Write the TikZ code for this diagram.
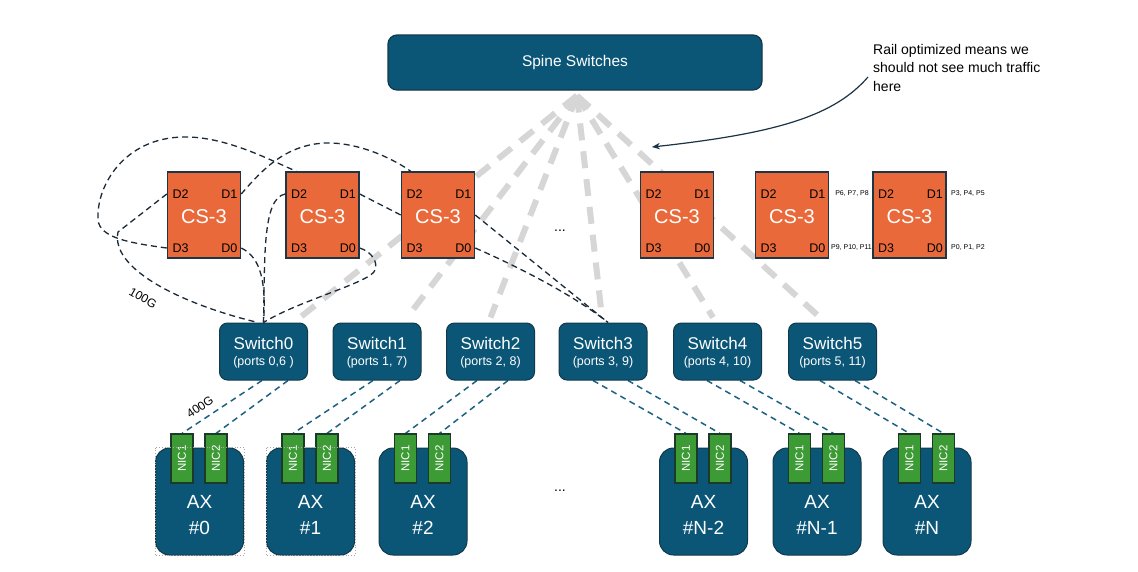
\documentclass[tikz,border=0pt]{standalone}
\usepackage{fontspec}
\setmainfont{Liberation Sans}
\usetikzlibrary{calc,arrows.meta}
\pgfdeclarelayer{bg}
\pgfdeclarelayer{paper}
\pgfsetlayers{paper,bg,main}
\definecolor{tealf}{HTML}{0B5677}
\definecolor{tealb}{HTML}{12394A}
\definecolor{csor}{HTML}{E9693A}
\definecolor{csb}{HTML}{1E3546}
\definecolor{nicg}{HTML}{3D9B35}
\definecolor{nicb}{HTML}{1B3A2A}
\definecolor{tline}{HTML}{1D6283}
\definecolor{kline}{HTML}{1B2A38}
\definecolor{grayl}{HTML}{D6D6D6}
\definecolor{arrowc}{HTML}{1B3344}
\tikzset{
  spinebox/.style={fill=tealf, draw=tealb, line width=1.2pt, rounded corners=9pt, minimum width=374pt, minimum height=55pt, inner sep=0pt, text=white, font=\fontsize{15.5}{18}\selectfont},
  csbox/.style={fill=csor, draw=csb, line width=1.5pt, minimum width=73pt, minimum height=86pt, inner sep=0pt},
  cst/.style={text=white, inner sep=0pt, font=\fontsize{20}{24}\selectfont},
  dlab/.style={text=black, inner sep=0pt, font=\fontsize{12.5}{14}\selectfont},
  plab/.style={text=black, inner sep=0pt, font=\fontsize{7}{8}\selectfont},
  swbox/.style={fill=tealf, draw=tealb, line width=1pt, rounded corners=8pt, minimum width=88pt, minimum height=57pt, inner sep=0pt},
  swt/.style={text=white, inner sep=0pt, font=\fontsize{17}{20}\selectfont},
  swp/.style={text=white, inner sep=0pt, font=\fontsize{12.5}{15}\selectfont},
  axbody/.style={fill=tealf, draw=tealb, line width=1pt, rounded corners=14pt, minimum width=88pt, minimum height=107pt, inner sep=0pt},
  nicbox/.style={fill=nicg, draw=nicb, line width=1.2pt, minimum width=22pt, minimum height=49pt, inner sep=0pt},
  nict/.style={text=white, inner sep=0pt, rotate=90, font=\fontsize{11.5}{13}\selectfont},
  axt/.style={text=white, inner sep=0pt, font=\fontsize{19}{22}\selectfont},
  dotsl/.style={text=black, inner sep=0pt, font=\fontsize{14}{16}\selectfont},
  speedl/.style={text=black, inner sep=0pt, font=\fontsize{12}{14}\selectfont},
  annot/.style={text=black, inner sep=0pt, align=left, font=\fontsize{14}{18.5}\selectfont},
  graydash/.style={draw=grayl, line width=6pt, dash pattern=on 17pt off 11pt},
  kdash/.style={draw=kline, line width=1.3pt, dash pattern=on 6pt off 4pt},
  tdash/.style={draw=tline, line width=1.5pt, dash pattern=on 6pt off 4.5pt},
  selbox/.style={draw=black!35, dotted, line width=0.8pt},
  notearrow/.style={draw=arrowc, line width=1.2pt, -{Stealth[length=8pt,width=6.5pt]}},
}
\newcommand\mkcs[2]{%
  \node[csbox] (#1) at (#2,215) {};
  \node[cst] (#1-t) at (#2,216.5) {CS-3};
  \node[dlab,anchor=west] (#1-d2) at (#2-31.5,194) {D2};
  \node[dlab,anchor=east] (#1-d1) at (#2+33.5,194) {D1};
  \node[dlab,anchor=west] (#1-d3) at (#2-31.5,248) {D3};
  \node[dlab,anchor=east] (#1-d0) at (#2+33.5,248) {D0};
}
\newcommand\mksw[4]{%
  \node[swbox] (#1) at (#2,351.5) {};
  \node[swt] (#1-t) at (#2,343) {#3};
  \node[swp] (#1-p) at (#2,362) {#4};
}
\newcommand\mkax[3]{%
  \node[axbody] (#1) at (#2,501.5) {};
  \node[nicbox] (#1-n1) at (#2-17.5,458.5) {};
  \node[nicbox] (#1-n2) at (#2+16.5,458.5) {};
  \node[nict] (#1-t1) at (#1-n1) {NIC1};
  \node[nict] (#1-t2) at (#1-n2) {NIC2};
  \node[axt] (#1-a) at (#2,502) {AX};
  \node[axt] (#1-b) at (#2,528) {\##3};
}
\begin{document}
\begin{tikzpicture}[x=1pt,y=-1pt]
\begin{pgfonlayer}{paper}
\fill[white] (0,0) rectangle (1138,571);
\end{pgfonlayer}
\useasboundingbox (0,0) rectangle (1138,571);

% spine
\node[spinebox] (spine) at (575,62.5) {Spine Switches};

% annotation
\node[annot, anchor=north west] (note) at (873,44) {Rail optimized means we\\should not see much traffic\\here};
\coordinate (aend) at (652,147);

% CS-3 boxes
\mkcs{cs1}{204}
\mkcs{cs2}{322.5}
\mkcs{cs3}{438}
\mkcs{cs4}{677}
\mkcs{cs5}{792}
\mkcs{cs6}{909.5}
\node[dotsl] (dotsa) at (560,231) {...};

% port labels
\node[plab] (p678) at (852,193) {P6, P7, P8};
\node[plab] (p91011) at (851.5,247) {P9, P10, P11};
\node[plab,anchor=west] (p345) at (951,193) {P3, P4, P5};
\node[plab,anchor=west] (p012) at (951,247) {P0, P1, P2};

% switches
\mksw{sw0}{263.5}{Switch0}{(ports 0,6 )}
\mksw{sw1}{377}{Switch1}{(ports 1, 7)}
\mksw{sw2}{490.5}{Switch2}{(ports 2, 8)}
\mksw{sw3}{603}{Switch3}{(ports 3, 9)}
\mksw{sw4}{717.5}{Switch4}{(ports 4, 10)}
\mksw{sw5}{832.5}{Switch5}{(ports 5, 11)}

% AX servers
\mkax{ax0}{199.5}{0}
\mkax{ax1}{310.5}{1}
\mkax{ax2}{423}{2}
\mkax{ax3}{703.5}{N-2}
\mkax{ax4}{817}{N-1}
\mkax{ax5}{927}{N}
\node[dotsl] (dotsb) at (560,491) {...};
\draw[selbox] (ax0.north west) rectangle (ax0.south east);
\draw[selbox] (ax1.north west) rectangle (ax1.south east);

% speed labels
\node[speedl, rotate=-30] (l100) at (143,298) {100G};
\node[speedl, rotate=34] (l400) at (200,407) {400G};

\begin{pgfonlayer}{bg}
% uplinks to spine
\draw[graydash] ($(spine.south)+(2,5)$) -- ($(sw0.north)+(36.5,-5)$);
\draw[graydash] ($(spine.south)+(2,5)$) -- ($(sw1.north)+(30,-5)$);
\draw[graydash] ($(spine.south)+(2,5)$) -- ($(sw2.north)+(0,-5)$);
\draw[graydash] ($(spine.south)+(2,5)$) -- ($(sw3.north)+(-1,-5)$);
\draw[graydash] ($(spine.south)+(2,5)$) -- ($(sw4.north)+(-4.5,-5)$);
\draw[graydash] ($(spine.south)+(2,5)$) -- ($(sw5.north)+(-12.5,-5)$);

% CS-3 to switch links
\draw[kdash] (cs1.west |- cs1-d2) -- (118,232) .. controls (110,270) and (185,305) .. ($(sw0.north)+(-5.5,0)$);
\draw[kdash] (cs1.west |- cs1-d3) .. controls (130,243) and (100,238) .. (98,220) .. controls (96,185) and (125,138) .. (183,137) .. controls (225,136) and (270,160) .. ($(cs2.north west)+(11,0)$);
\draw[kdash] (cs1.east |- cs1-d1) .. controls (262,170) and (285,145) .. (325,143) .. controls (360,142) and (395,160) .. ($(cs3.north west)+(10,0)$);
\draw[kdash] (cs1.east |- cs1-d0) .. controls (262,258) and (266,285) .. (sw0.north);
\draw[kdash] (cs2.west |- cs2-d2) .. controls (262,198) and (265,260) .. (sw0.north);
\draw[kdash] (cs2.east |- cs2-d0) .. controls (372,252) and (378,262) .. (375,270) .. controls (372,282) and (300,300) .. (sw0.north);
\draw[kdash] (cs2.east |- cs2-d1) -- (cs3.west);
\draw[kdash] (cs3.east) -- ($(sw3.north)+(5,0)$);
\draw[kdash] (cs3.east |- cs3-d0) .. controls (530,272) and (580,300) .. ($(sw3.north)+(5,0)$);

% switch to NIC links
\draw[tdash] ($(sw0.south)+(-1.5,0)$) -- (ax0-n1.north);
\draw[tdash] ($(sw0.south)+(24.5,0)$) -- (ax0-n2.north);
\draw[tdash] ($(sw1.south)+(-4,0)$) -- (ax1-n1.north);
\draw[tdash] ($(sw1.south)+(23,0)$) -- (ax1-n2.north);
\draw[tdash] ($(sw2.south)+(-13.5,0)$) -- (ax2-n1.north);
\draw[tdash] ($(sw2.south)+(17.5,0)$) -- (ax2-n2.north);
\draw[tdash] ($(sw3.south)+(-10,0)$) -- (ax3-n1.north);
\draw[tdash] ($(sw3.south)+(25,0)$) -- (ax3-n2.north);
\draw[tdash] ($(sw4.south)+(-10.5,0)$) -- (ax4-n1.north);
\draw[tdash] ($(sw4.south)+(22.5,0)$) -- (ax4-n2.north);
\draw[tdash] ($(sw5.south)+(-12.5,0)$) -- (ax5-n1.north);
\draw[tdash] ($(sw5.south)+(22.5,0)$) -- (ax5-n2.north);
\end{pgfonlayer}

% annotation arrow
\draw[notearrow] ($(note.north west)+(-5,33)$) .. controls (835,115) and (780,133) .. (aend);
\end{tikzpicture}
\end{document}
